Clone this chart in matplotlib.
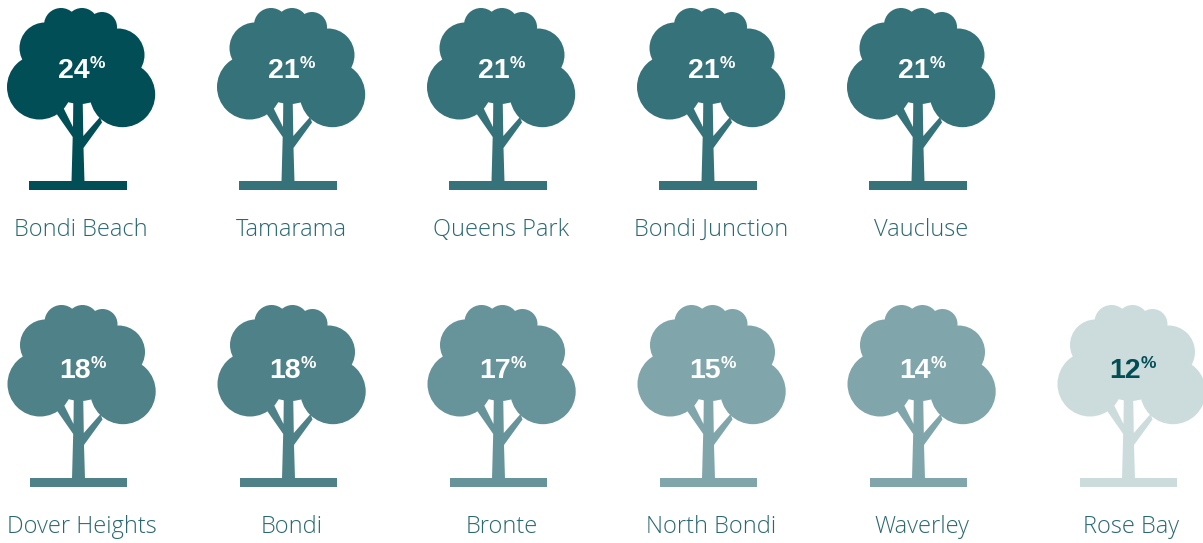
import matplotlib
matplotlib.use("Agg")
import matplotlib.pyplot as plt
from matplotlib.patches import Circle, Polygon, Rectangle

# suburbs in reading order, top row first
suburbs = ["Bondi Beach", "Tamarama", "Queens Park", "Bondi Junction", "Vaucluse",
           "Dover Heights", "Bondi", "Bronte", "North Bondi", "Waverley", "Rose Bay"]
canopy = [24, 21, 21, 21, 21, 18, 18, 17, 15, 14, 12]
tree_cols = [0, 1, 2, 3, 4, 0, 1, 2, 3, 4, 5]
tree_rows = [0, 0, 0, 0, 0, 1, 1, 1, 1, 1, 1]
tree_colors = ["#024E57", "#36727A", "#36727A", "#36727A", "#36727A",
               "#4F8188", "#4F8188", "#67949B", "#80A6AB", "#80A6AB", "#CCDCDD"]
number_colors = ["white"] * 10 + ["#024E57"]

W, H = 1203, 543
COL_STEP = 210
ROW_STEP = 297
NUMBER_DROP = 3.5  # numbers sit a bit lower in the second row
LABEL_COLOR = "#2A6871"

fig = plt.figure(figsize=(W / 100, H / 100), dpi=100)
ax = fig.add_axes([0, 0, 1, 1])
ax.set_xlim(0, W)
ax.set_ylim(H, 0)
ax.axis("off")

# tree glyph, drawn in pixels relative to the top left of its cell
blobs = [(39.5, 87, 32.5), (122.5, 94.5, 32.7), (45, 48, 25.5), (118, 55, 26.5),
         (61, 25, 17), (82, 24, 16), (102, 27, 15), (80, 66, 38)]
trunk = [(73.3, 100), (82.7, 100), (83.3, 136), (100, 117), (102, 122.5),
         (83.5, 148), (84.5, 182), (71.5, 182), (72.7, 137), (56, 113), (63, 107), (73, 127)]
base = (29.3, 181, 97.5, 9)


def draw_tree(dx, dy, color):
    for cx, cy, r in blobs:
        ax.add_patch(Circle((cx + dx, cy + dy), r, fc=color, ec="none"))
    ax.add_patch(Polygon([(x + dx, y + dy) for x, y in trunk], fc=color, ec="none"))
    ax.add_patch(Rectangle((base[0] + dx, base[1] + dy), base[2], base[3], fc=color, ec="none"))


for name, val, col, row, color, ncolor in zip(suburbs, canopy, tree_cols, tree_rows,
                                              tree_colors, number_colors):
    dx = col * COL_STEP + row * 0.5
    dy = row * ROW_STEP
    draw_tree(dx, dy, color)
    ny = dy + row * NUMBER_DROP
    ax.text(90 + dx, 77.5 + ny, str(val), ha="right", va="baseline", color=ncolor,
            fontsize=20.5, fontweight="bold", family="Liberation Sans")
    ax.text(90 + dx, 68 + ny, "%", ha="left", va="baseline", color=ncolor,
            fontsize=12.5, fontweight="bold", family="Liberation Sans")
    ax.text(81 + dx, 236 + dy, name, ha="center", va="baseline", color=LABEL_COLOR,
            fontsize=17, fontweight="light", family="Open Sans")

fig.savefig("out.png", dpi=100)
